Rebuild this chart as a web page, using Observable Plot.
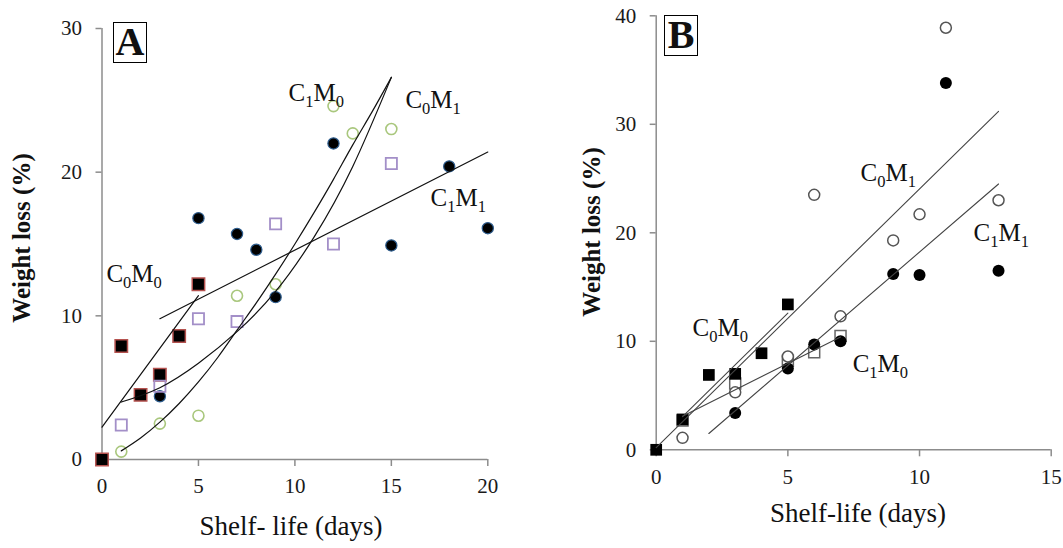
<!DOCTYPE html>
<html><head><meta charset="utf-8">
<script src="https://cdn.jsdelivr.net/npm/d3@7"></script>
<script src="https://cdn.jsdelivr.net/npm/@observablehq/plot@0.6"></script>
<style>
body{margin:0;background:#fff;}
#wrap{position:relative;width:1063px;height:548px;overflow:hidden;font-family:"Liberation Serif","Times New Roman",serif;color:#111;}
.panel{position:absolute;top:0;}
.panel svg{overflow:visible;}
.tag{position:absolute;border:1.5px solid #000;box-sizing:border-box;font-weight:bold;font-size:40px;line-height:38px;text-align:center;background:#fff;}
.ttl{position:absolute;white-space:nowrap;transform:translate(-50%,-50%);}
.ttl.rot{transform:translate(-50%,-50%) rotate(-90deg);font-weight:bold;}
</style></head><body><div id="wrap"></div>
<script>
// ---------- Panel A data ----------
const A_days_C0M0 = [0,1,2,3,4,5];
const A_wl_C0M0   = [0,7.9,4.5,5.9,8.6,12.2];
const A_days_C0M1 = [1,3,5,7,9,12,15];
const A_wl_C0M1   = [2.4,5.1,9.8,9.6,16.4,15.0,20.6];
const A_days_C1M0 = [1,3,5,7,9,12,13,15];
const A_wl_C1M0   = [0.55,2.5,3.05,11.4,12.2,24.6,22.7,23.0];
const A_days_C1M1 = [3,5,7,8,9,12,15,18,20];
const A_wl_C1M1   = [4.4,16.8,15.7,14.6,11.3,22.0,14.9,20.4,16.1];
// trend lines
const A_fit_C0M0_x = [0,5],  A_fit_C0M0_y = [2.25,11.4];
const A_fit_C1M1_x = [3,20], A_fit_C1M1_y = [9.8,21.4];
const A_fit_C1M0_x = [1,2,3,4,5,6,7,8,9,10,11,12,13,14,15];
const A_fit_C1M0_y = [0.6,1.5,2.6,3.9,5.4,7.1,9.0,10.9,12.9,15.0,17.2,19.5,21.9,24.2,26.6];
const A_fit_C0M1_x = [1,3,5,7,9,11,13,15];
const A_fit_C0M1_y = [4.0,5.0,6.7,8.9,11.7,15.5,20.4,26.6];
const A_xTicks = [0,5,10,15,20];
const A_yTicks = [0,10,20,30];
const A_labels = ["C0M0","C1M0","C0M1","C1M1"];
const A_labelX = [0.23,9.67,15.73,17.03];
const A_labelY = [12.9,25.5,25.0,18.2];

// ---------- Panel B data ----------
const B_days_C0M0 = [0,1,2,3,4,5];
const B_wl_C0M0   = [0,2.8,6.9,7.0,8.9,13.4];
const B_days_C0M1 = [1,3,5,6,7,9,10,11,13];
const B_wl_C0M1   = [1.1,5.3,8.6,23.5,12.3,19.3,21.7,38.9,23.0];
const B_days_C1M0 = [1,3,5,6,7];
const B_wl_C1M0   = [2.7,6.1,8.2,9.0,10.5];
const B_days_C1M1 = [3,5,6,7,9,10,11,13];
const B_wl_C1M1   = [3.4,7.5,9.7,10.0,16.2,16.1,33.8,16.5];
const B_fit_C0M1_x = [0,13], B_fit_C0M1_y = [0.2,31.2];
const B_fit_C0M0_x = [1,5],  B_fit_C0M0_y = [3.05,12.6];
const B_fit_C1M0_x = [1,7],  B_fit_C1M0_y = [3.1,10.4];
const B_fit_C1M1_x = [2,13], B_fit_C1M1_y = [1.5,24.5];
const B_xTicks = [0,5,10,15];
const B_yTicks = [0,10,20,30,40];
const B_labels = ["C0M1","C1M1","C0M0","C1M0"];
const B_labelX = [7.76,12.05,1.38,7.46];
const B_labelY = [25.5,20.0,11.2,7.95];

const pts = (xs, ys) => xs.map((x, i) => ({x, y: ys[i]}));
const labs = (t, xs, ys) => t.map((s, i) => ({t: s, x: xs[i], y: ys[i]}));

const AX = "#8c8c8c";
function axes(xt, yt){
  return [
    Plot.ruleY([0], {stroke: AX, strokeWidth: 1.5}),
    Plot.ruleX([0], {stroke: AX, strokeWidth: 1.5}),
    Plot.axisX({ticks: xt, tickSize: 7, tickPadding: 12, stroke: AX, strokeWidth: 1.5, fill: "#1a1a1a", fontSize: 21, label: null}),
    Plot.axisY({ticks: yt, tickSize: 6, tickPadding: 14, stroke: AX, strokeWidth: 1.5, fill: "#1a1a1a", fontSize: 21, label: null})
  ];
}

function subscriptify(svg, fs){
  svg.querySelectorAll("text").forEach(t => {
    const m = t.textContent.match(/^C(\d)M(\d)$/);
    if (!m) return;
    while (t.firstChild) t.removeChild(t.firstChild);
    const NS = "http://www.w3.org/2000/svg";
    const parts = [["C",0],[m[1],1],["M",0],[m[2],1]];
    let shifted = false;
    parts.forEach(([s, sub]) => {
      const ts = document.createElementNS(NS, "tspan");
      ts.textContent = s;
      if (sub) { ts.setAttribute("font-size", (fs*0.66).toFixed(1)); ts.setAttribute("dy", (fs*0.24).toFixed(1)); shifted = true; }
      else if (shifted) { ts.setAttribute("dy", (-fs*0.24).toFixed(1)); shifted = false; }
      t.appendChild(ts);
    });
  });
}

const LBL = 25;
const plotA = Plot.plot({
  width: 540, height: 548,
  marginLeft: 101.5, marginRight: 52.7, marginTop: 28, marginBottom: 89,
  x: {domain: [0,20]}, y: {domain: [0,30]},
  style: {fontFamily: "Liberation Serif, serif", fontSize: "21px", background: "transparent"},
  marks: [
    ...axes(A_xTicks, A_yTicks),
    Plot.dot(pts(A_days_C1M0, A_wl_C1M0), {x: "x", y: "y", symbol: "circle", r: 5.5, fill: "white", stroke: "#a9c77d", strokeWidth: 1.6}),
    Plot.dot(pts(A_days_C1M1, A_wl_C1M1), {x: "x", y: "y", symbol: "circle", r: 5.6, fill: "#000", stroke: "#2e5d8e", strokeWidth: 1.2}),
    Plot.dot(pts(A_days_C0M0, A_wl_C0M0), {x: "x", y: "y", symbol: "square", r: 7, fill: "#000", stroke: "#b5524f", strokeWidth: 1.5}),
    Plot.dot(pts(A_days_C0M1, A_wl_C0M1), {x: "x", y: "y", symbol: "square", r: 6.3, fill: "none", stroke: "#a38fc8", strokeWidth: 1.8}),
    Plot.line(pts(A_fit_C0M0_x, A_fit_C0M0_y), {x: "x", y: "y", stroke: "#111", strokeWidth: 1.2}),
    Plot.line(pts(A_fit_C1M1_x, A_fit_C1M1_y), {x: "x", y: "y", stroke: "#111", strokeWidth: 1.2}),
    Plot.line(pts(A_fit_C1M0_x, A_fit_C1M0_y), {x: "x", y: "y", curve: "natural", stroke: "#111", strokeWidth: 1.2}),
    Plot.line(pts(A_fit_C0M1_x, A_fit_C0M1_y), {x: "x", y: "y", curve: "natural", stroke: "#111", strokeWidth: 1.2}),
    Plot.text(labs(A_labels, A_labelX, A_labelY), {x: "x", y: "y", text: "t", textAnchor: "start", lineAnchor: "middle", fontSize: LBL, fill: "#111"})
  ]
});
subscriptify(plotA, LBL);

const plotB = Plot.plot({
  width: 523, height: 548,
  marginLeft: 115.7, marginRight: 12.3, marginTop: 15.3, marginBottom: 98.7,
  x: {domain: [0,15]}, y: {domain: [0,40]},
  style: {fontFamily: "Liberation Serif, serif", fontSize: "21px", background: "transparent"},
  marks: [
    ...axes(B_xTicks, B_yTicks),
    Plot.dot(pts(B_days_C1M0, B_wl_C1M0), {x: "x", y: "y", symbol: "square", r: 6.2, fill: "white", stroke: "#666", strokeWidth: 1.5}),
    Plot.dot(pts(B_days_C0M1, B_wl_C0M1), {x: "x", y: "y", symbol: "circle", r: 5.5, fill: "white", stroke: "#555", strokeWidth: 1.5}),
    Plot.dot(pts(B_days_C1M1, B_wl_C1M1), {x: "x", y: "y", symbol: "circle", r: 6, fill: "#000", stroke: "none"}),
    Plot.dot(pts(B_days_C0M0, B_wl_C0M0), {x: "x", y: "y", symbol: "square", r: 6.6, fill: "#000", stroke: "none"}),
    Plot.line(pts(B_fit_C0M1_x, B_fit_C0M1_y), {x: "x", y: "y", stroke: "#444", strokeWidth: 1.1}),
    Plot.line(pts(B_fit_C0M0_x, B_fit_C0M0_y), {x: "x", y: "y", stroke: "#444", strokeWidth: 1.1}),
    Plot.line(pts(B_fit_C1M0_x, B_fit_C1M0_y), {x: "x", y: "y", stroke: "#444", strokeWidth: 1.1}),
    Plot.line(pts(B_fit_C1M1_x, B_fit_C1M1_y), {x: "x", y: "y", stroke: "#444", strokeWidth: 1.1}),
    Plot.text(labs(B_labels, B_labelX, B_labelY), {x: "x", y: "y", text: "t", textAnchor: "start", lineAnchor: "middle", fontSize: LBL, fill: "#111"})
  ]
});
subscriptify(plotB, LBL);

const wrap = document.getElementById("wrap");
const pa = document.createElement("div"); pa.className = "panel"; pa.style.left = "0px"; pa.appendChild(plotA); wrap.appendChild(pa);
const pb = document.createElement("div"); pb.className = "panel"; pb.style.left = "540px"; pb.appendChild(plotB); wrap.appendChild(pb);

function addDiv(cls, text, css){
  const d = document.createElement("div"); d.className = cls; d.textContent = text;
  Object.assign(d.style, css); wrap.appendChild(d); return d;
}
addDiv("tag", "A", {left: "113px", top: "22px", width: "34px", height: "41px"});
addDiv("tag", "B", {left: "664px", top: "15px", width: "34px", height: "41px"});
addDiv("ttl rot", "Weight loss (%)", {left: "22px", top: "238px", fontSize: "25px"});
addDiv("ttl rot", "Weight loss (%)", {left: "592px", top: "232px", fontSize: "25px"});
addDiv("ttl", "Shelf- life (days)", {left: "291px", top: "526px", fontSize: "27px"});
addDiv("ttl", "Shelf-life (days)", {left: "858px", top: "513px", fontSize: "27px"});
</script></body></html>
